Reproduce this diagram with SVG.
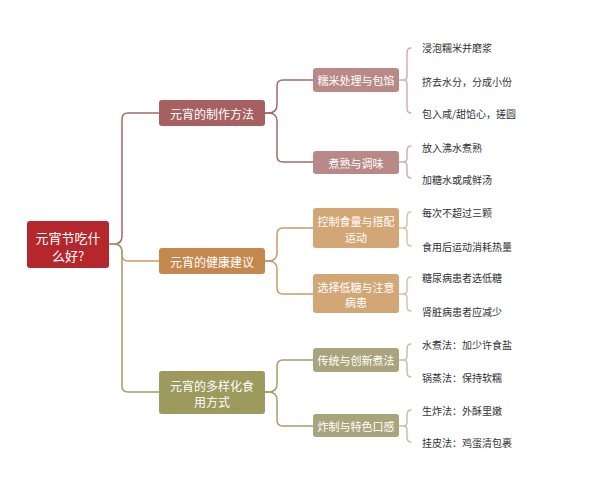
<svg xmlns="http://www.w3.org/2000/svg" width="600" height="503" viewBox="0 0 600 503">
<style>
text{font-family:"Noto Sans CJK SC","Noto Sans",sans-serif;}
.w{fill:#ffffff;text-anchor:middle;dominant-baseline:central;}
.t{fill:#333333;font-size:10px;dominant-baseline:central;}
.l1{font-size:12px;}
.l2{font-size:11px;}
.c{fill:none;stroke-width:1.5;stroke-linecap:round;}
.ca{stroke:#a46a6b;}
.cb{stroke:#c79a69;}
.cc{stroke:#a09f6e;}
.ba{stroke:#cfb1b1;}
.bb{stroke:#dcc2a4;}
.bc{stroke:#c4c2a6;}
</style>
<rect width="600" height="503" fill="#ffffff"/>
<g id="connectors">
<path class="c ca" d="M110,244 H114 Q122,244 122,236 V119 Q122,113 128,113 H159"/>
<path class="c cb" d="M110,244 H114 Q122,244 122,252 V255 Q122,261 128,261 H159"/>
<path class="c cc" d="M110,244 H114 Q122,244 122,252 V386 Q122,392 128,392 H159"/>
<path class="c ca" d="M265,113 H268 Q277,113 277,105 V86 Q277,80 283,80 H313"/>
<path class="c ca" d="M265,113 H268 Q277,113 277,121 V156 Q277,162 283,162 H313"/>
<path class="c cb" d="M265,261 H268 Q277,261 277,253 V234 Q277,228 283,228 H313"/>
<path class="c cb" d="M265,261 H268 Q277,261 277,269 V288 Q277,294 283,294 H313"/>
<path class="c cc" d="M265,392 H268 Q277,392 277,384 V366 Q277,360 283,360 H313"/>
<path class="c cc" d="M265,392 H268 Q277,392 277,400 V420 Q277,426 283,426 H313"/>
<path class="c ba" d="M399,80 H403 M411,48 Q407,48 407,53 V76 Q407,80 403,80 Q407,80 407,84 V108 Q407,113 411,113"/>
<path class="c ba" d="M399,162 H403 M411,146 Q407,146 407,151 V158 Q407,162 403,162 Q407,162 407,166 V173 Q407,178 411,178"/>
<path class="c bb" d="M399,228 H403 M411,212 Q407,212 407,217 V224 Q407,228 403,228 Q407,228 407,232 V241 Q407,246 411,246"/>
<path class="c bb" d="M399,294 H403 M411,277 Q407,277 407,282 V290 Q407,294 403,294 Q407,294 407,298 V306 Q407,311 411,311"/>
<path class="c bc" d="M399,360 H403 M411,344 Q407,344 407,349 V356 Q407,360 403,360 Q407,360 407,364 V372 Q407,377 411,377"/>
<path class="c bc" d="M399,426 H403 M411,410 Q407,410 407,415 V422 Q407,426 403,426 Q407,426 407,430 V437 Q407,442 411,442"/>
</g>
<g id="root">
<rect x="27" y="221" width="82" height="47" rx="3" fill="#b3272d"/>
<text class="w" x="68" y="237" font-size="13">元宵节吃什</text>
<text class="w" x="68" y="255" font-size="13">么好?</text>
</g>
<g id="n1">
<rect x="159" y="100" width="106" height="26" rx="3" fill="#a5605f"/>
<text class="w l1" x="212" y="113">元宵的制作方法</text>
</g>
<g id="n2">
<rect x="159" y="248" width="106" height="26" rx="3" fill="#c4874e"/>
<text class="w l1" x="212" y="261">元宵的健康建议</text>
</g>
<g id="n3">
<rect x="159" y="371" width="106" height="43" rx="3" fill="#9c9a5c"/>
<text class="w l1" x="212" y="385">元宵的多样化食</text>
<text class="w l1" x="212" y="401">用方式</text>
</g>
<g id="n1a">
<rect x="313" y="68" width="86" height="24" rx="3" fill="#b98988"/>
<text class="w l2" x="356" y="80">糯米处理与包馅</text>
</g>
<g id="n1b">
<rect x="313" y="151" width="86" height="23" rx="3" fill="#b98988"/>
<text class="w l2" x="356" y="162.5">煮熟与调味</text>
</g>
<g id="n2a">
<rect x="313" y="208" width="86" height="40" rx="3" fill="#d3a676"/>
<text class="w l2" x="356" y="221">控制食量与搭配</text>
<text class="w l2" x="356" y="237">运动</text>
</g>
<g id="n2b">
<rect x="313" y="274" width="86" height="39" rx="3" fill="#d3a676"/>
<text class="w l2" x="356" y="287">选择低糖与注意</text>
<text class="w l2" x="356" y="302">病患</text>
</g>
<g id="n3a">
<rect x="313" y="348" width="86" height="24" rx="3" fill="#a9a47b"/>
<text class="w l2" x="356" y="360">传统与创新煮法</text>
</g>
<g id="n3b">
<rect x="313" y="414" width="86" height="23" rx="3" fill="#a9a47b"/>
<text class="w l2" x="356" y="425.5">炸制与特色口感</text>
</g>
<g id="leaves">
<text class="t" x="422" y="47">浸泡糯米并磨浆</text>
<text class="t" x="422" y="81">挤去水分，分成小份</text>
<text class="t" x="422" y="113">包入咸/甜馅心，搓圆</text>
<text class="t" x="422" y="147">放入沸水煮熟</text>
<text class="t" x="422" y="179">加糖水或咸鲜汤</text>
<text class="t" x="422" y="212">每次不超过三颗</text>
<text class="t" x="422" y="246">食用后运动消耗热量</text>
<text class="t" x="422" y="277">糖尿病患者选低糖</text>
<text class="t" x="422" y="311">肾脏病患者应减少</text>
<text class="t" x="422" y="344">水煮法：加少许食盐</text>
<text class="t" x="422" y="377">锅蒸法：保持软糯</text>
<text class="t" x="422" y="410">生炸法：外酥里嫩</text>
<text class="t" x="422" y="442">挂皮法：鸡蛋清包裹</text>
</g>
</svg>
